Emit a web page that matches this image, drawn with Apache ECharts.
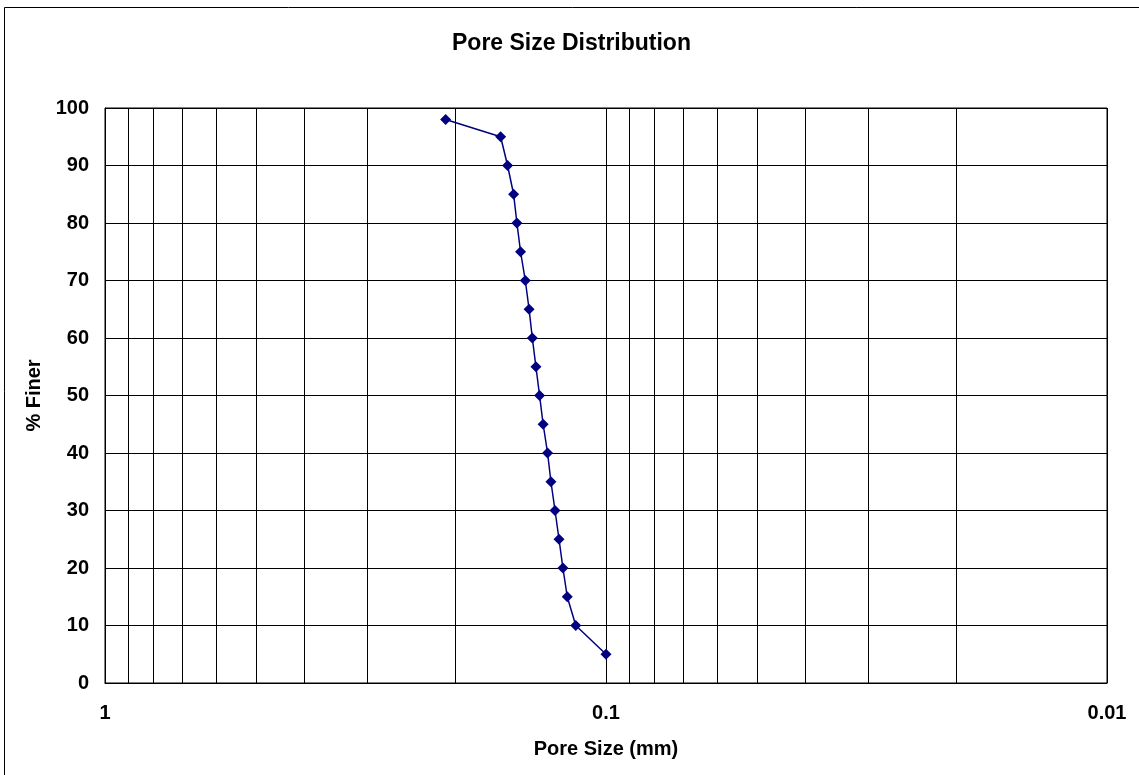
<!DOCTYPE html>
<html>
<head>
<meta charset="utf-8">
<script src="https://cdn.jsdelivr.net/npm/echarts@6/dist/echarts.min.js"></script>
<style>
html,body{margin:0;padding:0;background:#fff;}
#chart{width:1139px;height:775px;}
</style>
</head>
<body>
<div id="chart"></div>
<script>
// Data
const poreSize = [0.209, 0.1623, 0.1572, 0.1529, 0.1506, 0.1481, 0.1449, 0.1424, 0.1403, 0.138, 0.1357, 0.1335, 0.1308, 0.1288, 0.1264, 0.1241, 0.1219, 0.1195, 0.1149, 0.1];
const percentFiner = [98, 95, 90, 85, 80, 75, 70, 65, 60, 55, 50, 45, 40, 35, 30, 25, 20, 15, 10, 5];
const minorGrid = [0.9, 0.8, 0.7, 0.6, 0.5, 0.4, 0.3, 0.2, 0.09, 0.08, 0.07, 0.06, 0.05, 0.04, 0.03, 0.02];
const yTicks = [0, 10, 20, 30, 40, 50, 60, 70, 80, 90, 100];

const FONT = '"Liberation Sans", Arial, sans-serif';
const chart = echarts.init(document.getElementById('chart'), null, {renderer: 'canvas'});
chart.setOption({
  animation: false,
  backgroundColor: '#fff',
  textStyle: {fontFamily: FONT},
  title: {
    text: 'Pore Size Distribution',
    left: 452, top: 32, padding: 0,
    textStyle: {fontFamily: FONT, fontSize: 23, fontWeight: 'bold', color: '#000'}
  },
  graphic: [{
    type: 'rect', silent: true, z: -1,
    shape: {x: 4.5, y: 7.5, width: 1300, height: 900},
    style: {fill: 'none', stroke: '#000', lineWidth: 1}
  }],
  grid: {left: 105, top: 108, right: 32, bottom: 92, show: true, borderColor: '#000', borderWidth: 1, backgroundColor: '#fff'},
  xAxis: {
    type: 'log', logBase: 10, min: 0.01, max: 1, inverse: true,
    name: 'Pore Size (mm)', nameLocation: 'middle', nameGap: 56,
    nameTextStyle: {fontFamily: FONT, fontSize: 20, fontWeight: 'bold', color: '#000'},
    axisLine: {show: true, lineStyle: {color: '#000', width: 1}},
    axisTick: {show: false},
    axisLabel: {fontFamily: FONT, fontSize: 20, fontWeight: 'bold', color: '#000', margin: 20,
      formatter: v => String(+Number(v).toPrecision(3))},
    splitLine: {show: true, lineStyle: {color: '#000', width: 1}}
  },
  yAxis: {
    type: 'value', min: yTicks[0], max: yTicks[yTicks.length - 1], interval: 10,
    name: '% Finer', nameLocation: 'middle', nameGap: 60, nameRotate: 90,
    nameTextStyle: {fontFamily: FONT, fontSize: 20, fontWeight: 'bold', color: '#000'},
    axisLine: {show: true, lineStyle: {color: '#000', width: 1}},
    axisTick: {show: false},
    axisLabel: {fontFamily: FONT, fontSize: 20, fontWeight: 'bold', color: '#000', margin: 16},
    splitLine: {show: true, lineStyle: {color: '#000', width: 1}}
  },
  series: [{
    type: 'line',
    data: poreSize.map((x, i) => [x, percentFiner[i]]),
    symbol: 'diamond', symbolSize: 11,
    lineStyle: {color: '#000080', width: 1.5},
    itemStyle: {color: '#000080'},
    z: 5,
    markLine: {
      silent: true, symbol: 'none', z: 1,
      label: {show: false},
      lineStyle: {color: '#000', width: 1, type: 'solid'},
      data: minorGrid.map(v => ({xAxis: v}))
    }
  }]
});
</script>
</body>
</html>
